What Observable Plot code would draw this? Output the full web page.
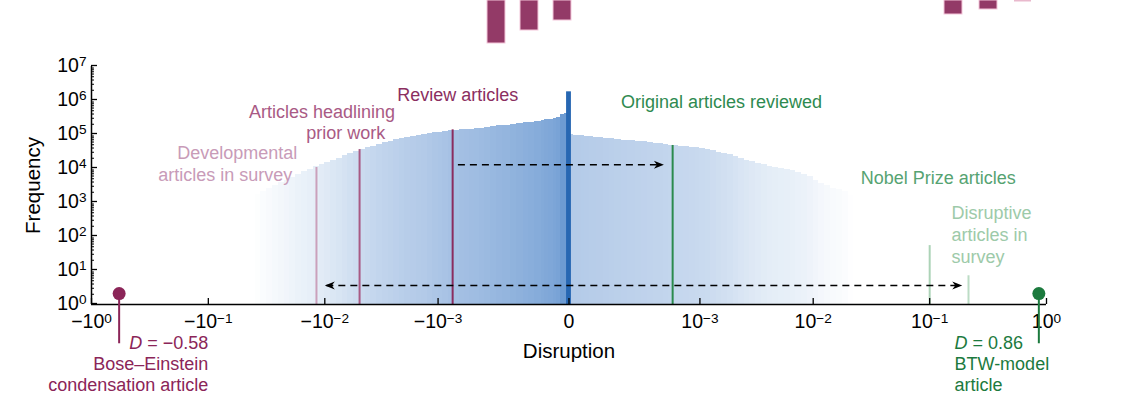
<!DOCTYPE html>
<html><head><meta charset="utf-8">
<script src="https://cdn.jsdelivr.net/npm/d3@7"></script>
<script src="https://cdn.jsdelivr.net/npm/@observablehq/plot@0.6"></script>
<style>
body{margin:0;background:#fff;}
#wrap{position:relative;width:1137px;height:401px;overflow:hidden;background:#fff;}
#wrap svg{position:absolute;left:0;top:0;}
</style></head><body><div id="wrap"></div>
<script>
// ---- histogram data: bin edge magnitudes (|disruption|), frequencies from 0 outward ----
const edgeMag = [0, 0.000008, 0.000015, 0.000023, 0.00003, 0.00004, 0.00005, 0.00006, 0.00008, 0.0001, 0.00012, 0.00015, 0.00018, 0.00022, 0.00026, 0.0003, 0.00035, 0.0004, 0.00045, 0.0005, 0.00056, 0.00063, 0.0007, 0.0008, 0.0009, 0.001, 0.00112, 0.00126, 0.00141, 0.00158, 0.00178, 0.002, 0.00224, 0.00251, 0.00282, 0.00316, 0.00355, 0.00398, 0.00447, 0.00501, 0.00562, 0.00631, 0.00708, 0.00794, 0.00891, 0.01, 0.0112, 0.0126, 0.0141, 0.0158, 0.0178, 0.02, 0.0224, 0.0251, 0.0282, 0.0316, 0.0355, 0.0398, 0.0447, 0.0501, 0.0562, 0.0631];
const leftFreq = [417000, 398000, 316000, 295000, 282000, 269000, 257000, 245000, 229000, 219000,
  209000, 200000, 186000, 178000, 170000, 162000, 155000, 148000, 145000, 141000,
  138000, 132000, 129000, 123000, 117000, 112000, 107000, 100000, 95500, 89100,
  83200, 75900, 69200, 63100, 57500, 51300, 45700, 40700, 35500, 30900,
  26900, 23400, 20000, 17400, 15100, 13200, 11200, 9550, 7940, 6760,
  5620, 4570, 3800, 3160, 2570, 2140, 1740, 1410, 1170, 955, 794];
const rightFreq = [97700, 95500, 93300, 91200, 89100, 85100, 83200, 81300, 77600, 74100,
  70800, 67600, 64600, 63100, 60300, 57500, 55000, 53700, 51300, 49000,
  46800, 45700, 44700, 42700, 40700, 38900, 36300, 33100, 30200, 27500,
  25100, 22400, 19500, 17400, 15800, 14100, 12900, 11700, 10700, 10000,
  9330, 8510, 7590, 6760, 5750, 4570, 3630, 3090, 2630, 2340,
  2090, 1660, 1320, 1050, 891, 708, 562];
const zeroBin = [{lo: -0.000004, hi: 0.000004, freq: 1800000}];

// ---- ticks ----
const xTicks = [-1, -0.1, -0.01, -0.001, 0, 0.001, 0.01, 0.1, 1];
const xTickLabels = ["−10^0", "−10^−1", "−10^−2", "−10^−3", "0", "10^−3", "10^−2", "10^−1", "10^0"];
const yTicks = [1, 10, 100, 1000, 10000, 100000, 1000000, 10000000];
const yTickLabels = ["10^0", "10^1", "10^2", "10^3", "10^4", "10^5", "10^6", "10^7"];

// ---- category markers (median disruption, line top frequency) ----
const categories = [
  {name: "Developmental articles in survey", D: -0.0118, top: 10700, color: "#caa0bb"},
  {name: "Articles headlining prior work", D: -0.005, top: 36000, color: "#a85a84"},
  {name: "Review articles", D: -0.00073, top: 137000, color: "#8a2c5f"},
  {name: "Original articles reviewed", D: 0.00055, top: 47600, color: "#2b8a4d"},
  {name: "Nobel Prize articles", D: 0.1, top: 54, color: "#acd3b7"},
  {name: "Disruptive articles in survey", D: 0.215, top: 7, color: "#bcdcc5"}
];

const labels = [
  {text: "Developmental", x: -0.01725, y: 27600, anchor: "end", color: "#c89bb8"},
  {text: "articles in survey", x: -0.01905, y: 6220, anchor: "end", color: "#c89bb8"},
  {text: "Articles headlining", x: -0.00244, y: 444000, anchor: "end", color: "#a95a85"},
  {text: "prior work", x: -0.00298, y: 107000, anchor: "end", color: "#a95a85"},
  {text: "Review articles", x: -0.00234, y: 1400000, anchor: "start", color: "#8b2e60"},
  {text: "Original articles reviewed", x: 0.000146, y: 870000, anchor: "start", color: "#2e8a50"},
  {text: "Nobel Prize articles", x: 0.0256, y: 5080, anchor: "start", color: "#56a372"},
  {text: "Disruptive", x: 0.154, y: 475, anchor: "start", color: "#9dcaa9"},
  {text: "articles in", x: 0.154, y: 107, anchor: "start", color: "#9dcaa9"},
  {text: "survey", x: 0.154, y: 24.1, anchor: "start", color: "#9dcaa9"}
];

// ---- arrows ----
const arrowLines = [
  {x1: -0.00065, x2: 0.00043, y: 13000},
  {x1: -0.0097, x2: 0.185, y: 3.6}
];
const arrowHeadsRight = [{x: 0.00045, y: 13000}, {x: 0.19, y: 3.6}];
const arrowHeadsLeft = [{x: -0.01, y: 3.6}];

// ---- extreme articles ----
const extremes = [
  {D: -0.58, f: 2.1, leaderEnd: 0.07, color: "#8b2558", textX: -0.1, anchor: "end",
   lines: ["D = −0.58", "Bose–Einstein", "condensation article"]},
  {D: 0.86, f: 2.1, leaderEnd: 0.07, color: "#1c7a3e", textX: 0.163, anchor: "start",
   lines: ["D = 0.86", "BTW-model", "article"]}
];
const lineOffsets = [39, 60, 81];

// ---- fragment of the panel above (cropped) ----
const fragBars = [
  {a: 487, b: 505, h: 43, light: false},
  {a: 520, b: 538, h: 30, light: false},
  {a: 553, b: 571, h: 20, light: false},
  {a: 944, b: 962, h: 14, light: false},
  {a: 979, b: 997, h: 9, light: false},
  {a: 1014, b: 1031, h: 1.5, light: true}
];

const bins = [];
leftFreq.forEach((f, i) => bins.push({lo: -edgeMag[i + 1], hi: -edgeMag[i], freq: f}));
rightFreq.forEach((f, i) => bins.push({lo: edgeMag[i], hi: edgeMag[i + 1], freq: f}));

const minorY = [];
for (let e = 0; e < 7; e++) for (let m = 2; m <= 9; m++) minorY.push(m * Math.pow(10, e));

const stealthRight = {draw(ctx, size) { const r = Math.sqrt(size / Math.PI);
  ctx.moveTo(0, 0); ctx.lineTo(-2 * r, -0.8 * r); ctx.lineTo(-1.4 * r, 0); ctx.lineTo(-2 * r, 0.8 * r); ctx.closePath(); }};
const stealthLeft = {draw(ctx, size) { const r = Math.sqrt(size / Math.PI);
  ctx.moveTo(0, 0); ctx.lineTo(2 * r, -0.8 * r); ctx.lineTo(1.4 * r, 0); ctx.lineTo(2 * r, 0.8 * r); ctx.closePath(); }};

const FONT = "'Liberation Sans', Arial, Helvetica, sans-serif";

const marks = [
  Plot.rect(bins, {x1: "lo", x2: "hi", y1: 1, y2: "freq", fill: "freq", inset: 0, shapeRendering: "crispEdges"}),
  Plot.rect(zeroBin, {x1: "lo", x2: "hi", y1: 1, y2: "freq", fill: "#2767b2", inset: 0}),
  ...categories.map(c => Plot.ruleX([c], {x: "D", y1: 1, y2: "top", stroke: c.color, strokeWidth: 2})),
  Plot.link(arrowLines, {x1: "x1", x2: "x2", y1: "y", y2: "y", stroke: "black", strokeWidth: 1.5, strokeDasharray: "7,5"}),
  Plot.dot(arrowHeadsRight, {x: "x", y: "y", r: 5, symbol: stealthRight, fill: "black", stroke: "none"}),
  Plot.dot(arrowHeadsLeft, {x: "x", y: "y", r: 5, symbol: stealthLeft, fill: "black", stroke: "none"}),
  ...labels.map(l => Plot.text([l], {x: "x", y: "y", text: "text", fill: l.color, textAnchor: l.anchor, fontSize: 18})),
  Plot.ruleY([1], {stroke: "black", strokeWidth: 1.5}),
  Plot.ruleX([-1], {stroke: "black", strokeWidth: 1.5}),
  Plot.axisX({ticks: xTicks, tickFormat: d => xTickLabels[xTicks.indexOf(d)], tickSize: -6, tickPadding: 16, fontSize: 19.5, label: null, strokeWidth: 1.3}),
  Plot.axisY({ticks: yTicks, tickFormat: d => yTickLabels[yTicks.indexOf(d)], tickSize: -6, tickPadding: 11, fontSize: 19.5, dy: -1, label: null, strokeWidth: 1.3}),
  Plot.axisY({ticks: minorY, tickFormat: () => "", tickSize: -3, label: null, strokeWidth: 1}),
  ...extremes.map(e => Plot.ruleX([e], {x: "D", y1: "f", y2: "leaderEnd", stroke: e.color, strokeWidth: 2})),
  ...extremes.map(e => Plot.dot([e], {x: "D", y: "f", r: 6.5, fill: e.color, stroke: "none"})),
  ...extremes.flatMap(e => e.lines.map((t, i) => Plot.text([t], {x: () => e.textX, text: d => d, frameAnchor: "bottom", lineAnchor: "middle", dy: lineOffsets[i], textAnchor: e.anchor, fill: e.color, fontSize: 18}))),
  Plot.text(["Disruption"], {frameAnchor: "bottom", lineAnchor: "middle", textAnchor: "middle", dy: 47, fontSize: 20.5, fill: "black"}),
  Plot.text(["Frequency"], {frameAnchor: "left", lineAnchor: "middle", textAnchor: "middle", dx: -58, rotate: -90, fontSize: 20.5, fill: "black"})
];

const main = Plot.plot({
  width: 1137, height: 401,
  marginLeft: 91, marginRight: 91, marginTop: 66, marginBottom: 97,
  style: {fontFamily: FONT, fontSize: "18px", background: "transparent", color: "black"},
  x: {type: "symlog", constant: 8.2e-5, domain: [-1, 1]},
  y: {type: "log", domain: [1, 1e7]},
  color: {type: "log", domain: [1500, 12000, 100000, 400000], range: ["#ffffff", "#e4edf7", "#b3cae8", "#6d9bd2"], clamp: true},
  marks
});

function fixText(svg) {
  const NS = "http://www.w3.org/2000/svg";
  svg.querySelectorAll("text").forEach(t => {
    if (t.querySelector("tspan")) return;
    const s = t.textContent;
    if (s.includes("^")) {
      const [base, exp] = s.split("^");
      t.textContent = base;
      const ts = document.createElementNS(NS, "tspan");
      ts.setAttribute("dy", "-0.42em");
      ts.setAttribute("font-size", "0.7em");
      ts.textContent = exp;
      t.appendChild(ts);
    } else if (s.startsWith("D = ")) {
      t.textContent = "";
      const it = document.createElementNS(NS, "tspan");
      it.setAttribute("font-style", "italic");
      it.textContent = "D";
      t.appendChild(it);
      t.appendChild(document.createTextNode(s.slice(1)));
    }
  });
}
fixText(main);

const frag = Plot.plot({
  width: 1137, height: 46, margin: 0,
  style: {background: "transparent"},
  x: {domain: [0, 1137], range: [0, 1137], axis: null},
  y: {domain: [0, 46], range: [0, 46], axis: null},
  marks: [
    Plot.rect(fragBars.filter(d => !d.light), {x1: "a", x2: "b", y1: 0, y2: "h", fill: "#933a67", stroke: "#f4c6da", strokeWidth: 1}),
    Plot.rect(fragBars.filter(d => d.light), {x1: "a", x2: "b", y1: 0, y2: "h", fill: "#e9b9cd"})
  ]
});

const wrap = document.getElementById("wrap");
wrap.appendChild(main);
wrap.appendChild(frag);
</script></body></html>
